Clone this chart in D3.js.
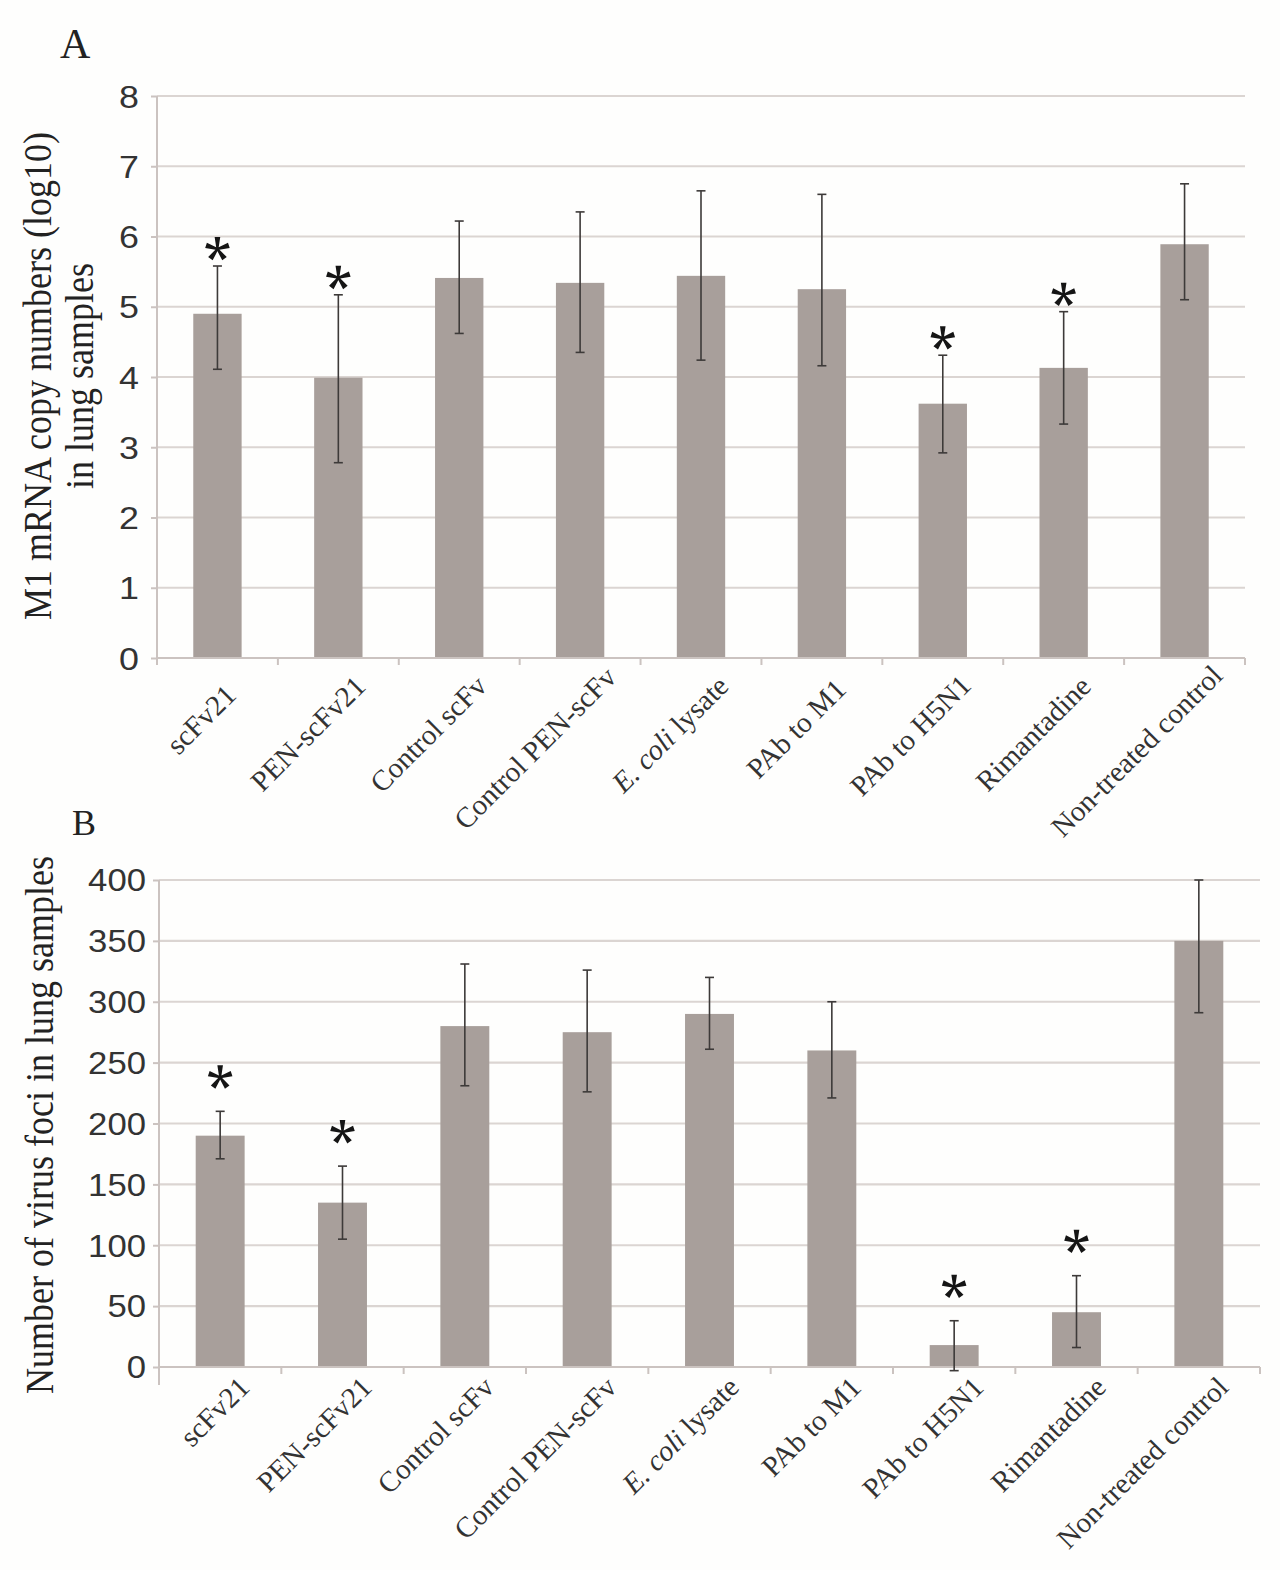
<!DOCTYPE html>
<html>
<head>
<meta charset="utf-8">
<script src="https://cdn.jsdelivr.net/npm/d3@7"></script>
<style>
  html, body { margin: 0; padding: 0; background: #fefefd; }
  svg { display: block; }
</style>
</head>
<body>
<svg id="chart" width="1280" height="1570"></svg>
<script>
// ---------------- DATA ----------------
const categories = ["scFv21", "PEN-scFv21", "Control scFv", "Control PEN-scFv", "E. coli lysate",
                    "PAb to M1", "PAb to H5N1", "Rimantadine", "Non-treated control"];

// Panel A: M1 mRNA copy numbers (log10)
const mrnaMean    = [4.90, 3.99, 5.41, 5.34, 5.44, 5.25, 3.62, 4.13, 5.89];
const mrnaErrLow  = [4.11, 2.78, 4.62, 4.35, 4.24, 4.16, 2.92, 3.33, 5.10];
const mrnaErrHigh = [5.58, 5.17, 6.22, 6.35, 6.65, 6.60, 4.31, 4.93, 6.75];
const mrnaTicks   = [0, 1, 2, 3, 4, 5, 6, 7, 8];

// Panel B: number of virus foci
const fociMean    = [190, 135, 280, 275, 290, 260, 18, 45, 350];
const fociErrLow  = [171, 105, 231, 226, 261, 221, -3, 16, 291];
const fociErrHigh = [210, 165, 331, 326, 320, 300, 38, 75, 400];
const fociTicks   = [0, 50, 100, 150, 200, 250, 300, 350, 400];

// significance markers (*)
const significant = [true, true, false, false, false, false, true, true, false];

// ---------------- STYLE ----------------
const barColor = "#a89f9b";
const gridColor = "#dbd5d2";
const axisColor = "#cbc3c0";
const errColor = "#3d3a39";
const textColor = "#333";
const serif = "'Liberation Serif', 'Times New Roman', serif";
const sans = "'Liberation Sans', Arial, sans-serif";
const stretch = 1.12;

const svg = d3.select("#chart");
svg.append("rect").attr("width", 1280).attr("height", 1570).attr("fill", "#fefefd");

function starPath(r) {
  // 5-arm asterisk with tapered arms
  let d = "";
  for (let k = 0; k < 5; k++) {
    const a = (-90 + k * 72) * Math.PI / 180;
    const ux = Math.cos(a), uy = Math.sin(a);
    const px = -uy, py = ux;
    const w0 = 1.0, w1 = 2.8;
    const p1 = [px * w0, py * w0];
    const p2 = [ux * r + px * w1, uy * r + py * w1];
    const p3 = [ux * r - px * w1, uy * r - py * w1];
    const p4 = [-px * w0, -py * w0];
    d += `M${p1[0]},${p1[1]}L${p2[0]},${p2[1]}L${p3[0]},${p3[1]}L${p4[0]},${p4[1]}Z`;
  }
  return d;
}

function drawPanel(cfg) {
  const g = svg.append("g");
  const x = d3.scaleBand().domain(categories).range(cfg.xRange)
    .paddingInner(0.6).paddingOuter(0.3);
  const y = d3.scaleLinear().domain(cfg.yDomain).range(cfg.yRange);
  const x0 = cfg.xRange[0], x1 = cfg.xRange[1];
  const yBase = y(0);

  // gridlines
  g.append("g").selectAll("line").data(cfg.ticks.filter(t => t !== 0)).join("line")
    .attr("x1", x0).attr("x2", x1)
    .attr("y1", d => y(d)).attr("y2", d => y(d))
    .attr("stroke", gridColor).attr("stroke-width", 2.2);

  // y axis
  const yAxis = d3.axisLeft(y).tickValues(cfg.ticks).tickSize(6).tickPadding(0)
    .tickFormat(d3.format("d"));
  const ya = g.append("g").attr("transform", `translate(${x0},0)`).call(yAxis);
  ya.select(".domain").remove();
  ya.selectAll(".tick line").attr("stroke", axisColor).attr("stroke-width", 2);
  ya.selectAll(".tick text")
    .attr("x", -cfg.tickGap / stretch)
    .attr("dy", "0.35em")
    .attr("transform", `scale(${stretch},1)`)
    .attr("fill", textColor)
    .style("font-family", sans)
    .style("font-size", cfg.tickFont + "px");
  g.append("line").attr("x1", x0).attr("x2", x0)
    .attr("y1", y(cfg.yDomain[1])).attr("y2", yBase + cfg.axisExt)
    .attr("stroke", axisColor).attr("stroke-width", 2);

  // bars
  g.append("g").selectAll("rect").data(categories).join("rect")
    .attr("x", d => x(d))
    .attr("width", x.bandwidth())
    .attr("y", (d, i) => y(Math.max(0, cfg.mean[i])))
    .attr("height", (d, i) => yBase - y(cfg.mean[i]))
    .attr("fill", barColor);

  // x axis line and ticks
  g.append("line").attr("x1", x0).attr("x2", x1).attr("y1", yBase).attr("y2", yBase)
    .attr("stroke", axisColor).attr("stroke-width", 2.2);
  const bounds = categories.map(c => x(c) + x.bandwidth() / 2 - x.step() / 2)
    .concat([x(categories[categories.length - 1]) + x.bandwidth() / 2 + x.step() / 2]);
  g.append("g").selectAll("line").data(bounds).join("line")
    .attr("x1", d => d).attr("x2", d => d)
    .attr("y1", yBase).attr("y2", yBase + 7)
    .attr("stroke", axisColor).attr("stroke-width", 2);

  // error bars
  const eg = g.append("g").attr("stroke", errColor).attr("stroke-width", 1.6);
  categories.forEach((c, i) => {
    const cx = x(c) + x.bandwidth() / 2;
    const yl = y(cfg.lo[i]), yh = y(cfg.hi[i]);
    eg.append("line").attr("x1", cx).attr("x2", cx).attr("y1", yl).attr("y2", yh);
    eg.append("line").attr("x1", cx - 4.5).attr("x2", cx + 4.5).attr("y1", yl).attr("y2", yl);
    eg.append("line").attr("x1", cx - 4.5).attr("x2", cx + 4.5).attr("y1", yh).attr("y2", yh);
  });

  // significance stars
  g.append("g").selectAll("path").data(categories.filter((c, i) => significant[i])).join("path")
    .attr("d", starPath(12))
    .attr("transform", d => {
      const i = categories.indexOf(d);
      return `translate(${x(d) + x.bandwidth() / 2},${y(cfg.hi[i]) - cfg.starOffset})`;
    })
    .attr("fill", "#151515");

  // x labels (rotated -45deg, anchored at their end; long labels slide along their direction)
  const lg = g.append("g");
  const vx = Math.SQRT1_2, vy = -Math.SQRT1_2;
  categories.forEach(c => {
    const cx = x(c) + x.bandwidth() / 2;
    const t = lg.append("text")
      .attr("text-anchor", "end")
      .attr("fill", textColor)
      .style("font-family", serif)
      .style("font-size", "29px");
    if (c.startsWith("E. coli")) {
      t.append("tspan").style("font-style", "italic").text("E. coli");
      t.append("tspan").text(c.slice(7));
    } else {
      t.text(c);
    }
    const len = t.node().getComputedTextLength();
    const shift = cfg.labelSlide * len;
    const ax = cx + cfg.labelOffset[0] + shift * vx;
    const ay = yBase + cfg.labelOffset[1] + shift * vy;
    t.attr("transform", `translate(${ax},${ay}) rotate(-45)`);
  });

  // y title
  const tg = g.append("text")
    .attr("transform", `translate(0,${cfg.titleY}) scale(${stretch},1) rotate(-90)`)
    .attr("text-anchor", "middle")
    .attr("fill", "#222")
    .style("font-family", serif)
    .style("font-size", "36px");
  cfg.titleLines.forEach((line, k) => {
    tg.append("tspan").attr("x", 0).attr("y", cfg.titleX[k] / stretch).text(line);
  });

  // panel letter
  g.append("text").attr("x", cfg.letterPos[0]).attr("y", cfg.letterPos[1])
    .attr("fill", "#222").style("font-family", serif)
    .style("font-size", cfg.letterSize + "px").text(cfg.letter);
}

drawPanel({
  mean: mrnaMean, lo: mrnaErrLow, hi: mrnaErrHigh, ticks: mrnaTicks,
  xRange: [157, 1245], yDomain: [0, 8], yRange: [658, 96],
  tickFont: 32, tickGap: 18, axisExt: 5, starOffset: 17,
  labelOffset: [9, 50], labelSlide: 0.19,
  titleLines: ["M1 mRNA copy numbers (log10)", "in lung samples"],
  titleX: [51, 93], titleY: 376,
  letter: "A", letterPos: [60, 58], letterSize: 42
});

drawPanel({
  mean: fociMean, lo: fociErrLow, hi: fociErrHigh, ticks: fociTicks,
  xRange: [159, 1260], yDomain: [0, 400], yRange: [1367, 880],
  tickFont: 31, tickGap: 13, axisExt: 18, starOffset: 34,
  labelOffset: [31, 22], labelSlide: 0,
  titleLines: ["Number of virus foci in lung samples"],
  titleX: [53], titleY: 1125,
  letter: "B", letterPos: [72, 835], letterSize: 36
});
</script>
</body>
</html>
